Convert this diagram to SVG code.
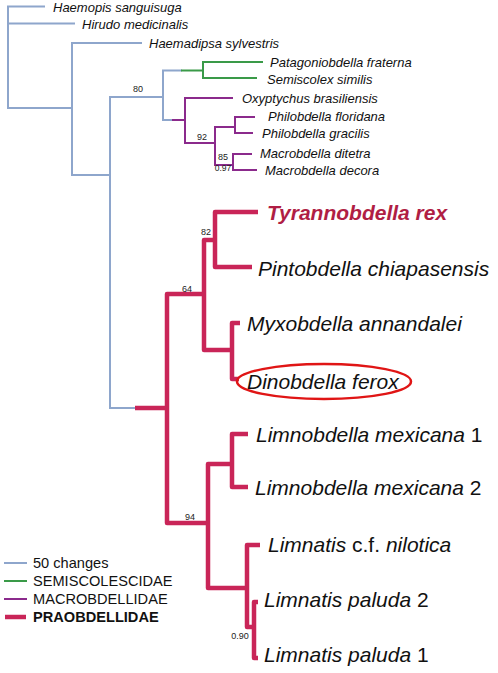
<svg xmlns="http://www.w3.org/2000/svg" width="498" height="673" viewBox="0 0 498 673">
<style>
.b{fill:none;stroke:#8ea6cc;stroke-width:2}
.g{fill:none;stroke:#3a9a48;stroke-width:2}
.m{fill:none;stroke:#8b2a8c;stroke-width:2}
.p{fill:none;stroke:#c92558;stroke-width:4.5;stroke-linejoin:round}
.s{font-family:"Liberation Sans",Arial,sans-serif;font-size:13px;font-style:italic;fill:#111}
.l{font-family:"Liberation Sans",Arial,sans-serif;font-size:21px;font-style:italic;fill:#111}
.r{font-style:normal}
.n{font-family:"Liberation Sans",Arial,sans-serif;font-size:9px;fill:#222;text-anchor:middle}
.k{font-family:"Liberation Sans",Arial,sans-serif;font-size:14.6px;fill:#111}
</style>
<rect width="498" height="673" fill="#fff"/>
<g id="connectors">
<path class="b" d="M45,6.5H8V108H72M8,23.5H75"/>
<path class="b" d="M142,43H72V175H110"/>
<path class="b" d="M163,97H110V408H135"/>
<path class="b" d="M182,70.5H163V120H173"/>
<path class="g" d="M181,70.5H203M263,62H203V78H257"/>
<path class="m" d="M172,120H185M233,98H185V143H215M235,127H215V165H233M255,117H235V133H253M252,154H233V170H257"/>
<path class="p" d="M135,408H167M204,294H167V523H208"/>
<path class="p" d="M215,240H204V350H232"/>
<path class="p" d="M258,212H215V267H252"/>
<path class="p" d="M240,323H232V379H239"/>
<path class="p" d="M232,464H208V588H247"/>
<path class="p" d="M248,434H232V487H248"/>
<path class="p" d="M260,545H247V627H254"/>
<path class="p" d="M258,602H254V658H258"/>
</g>
<g id="supports">
<text class="n" x="138" y="92">80</text>
<text class="n" x="202" y="140">92</text>
<text class="n" x="223" y="160">85</text>
<text class="n" x="223" y="171" style="font-size:8.5px">0.97</text>
<text class="n" x="206" y="235">82</text>
<text class="n" x="187" y="292">64</text>
<text class="n" x="190" y="520">94</text>
<text class="n" x="240" y="639">0.90</text>
</g>
<g id="haemopis"><text class="s" x="53" y="11.5">Haemopis sanguisuga</text></g>
<g id="hirudo"><text class="s" x="82" y="29">Hirudo medicinalis</text></g>
<g id="haemadipsa"><text class="s" x="149" y="47.5">Haemadipsa sylvestris</text></g>
<g id="patagoniobdella"><text class="s" x="270" y="67">Patagoniobdella fraterna</text></g>
<g id="semiscolex"><text class="s" x="267" y="84">Semiscolex similis</text></g>
<g id="oxyptychus"><text class="s" x="242" y="103">Oxyptychus brasiliensis</text></g>
<g id="philobdella-floridana"><text class="s" x="268" y="121">Philobdella floridana</text></g>
<g id="philobdella-gracilis"><text class="s" x="262" y="138">Philobdella gracilis</text></g>
<g id="macrobdella-ditetra"><text class="s" x="260" y="158">Macrobdella ditetra</text></g>
<g id="macrobdella-decora"><text class="s" x="265" y="175">Macrobdella decora</text></g>
<g id="tyrannobdella"><text class="l" x="267" y="220" style="font-weight:bold;fill:#b01e44">Tyrannobdella rex</text></g>
<g id="pintobdella"><text class="l" x="258" y="276">Pintobdella chiapasensis</text></g>
<g id="myxobdella"><text class="l" x="247" y="331">Myxobdella annandalei</text></g>
<g id="dinobdella">
<ellipse cx="324" cy="381.5" rx="87" ry="17.5" fill="none" stroke="#e01515" stroke-width="2.5"/>
<text class="l" x="247" y="389">Dinobdella ferox</text>
</g>
<g id="limnobdella-1"><text class="l" x="256" y="442">Limnobdella mexicana<tspan class="r"> 1</tspan></text></g>
<g id="limnobdella-2"><text class="l" x="255" y="495">Limnobdella mexicana<tspan class="r"> 2</tspan></text></g>
<g id="limnatis-nilotica"><text class="l" x="268" y="552">Limnatis<tspan class="r"> c.f. </tspan>nilotica</text></g>
<g id="limnatis-paluda-2"><text class="l" x="264" y="607">Limnatis paluda<tspan class="r"> 2</tspan></text></g>
<g id="limnatis-paluda-1"><text class="l" x="264" y="662">Limnatis paluda<tspan class="r"> 1</tspan></text></g>
<g id="legend">
<path class="b" d="M4,563H27"/>
<path class="g" d="M4,581H27"/>
<path class="m" d="M4,599H27"/>
<path d="M5,617H26" stroke="#c92558" stroke-width="4.5"/>
<text class="k" x="33" y="568">50 changes</text>
<text class="k" x="33" y="586">SEMISCOLESCIDAE</text>
<text class="k" x="33" y="604">MACROBDELLIDAE</text>
<text class="k" x="33" y="622" style="font-weight:bold">PRAOBDELLIDAE</text>
</g>
</svg>
